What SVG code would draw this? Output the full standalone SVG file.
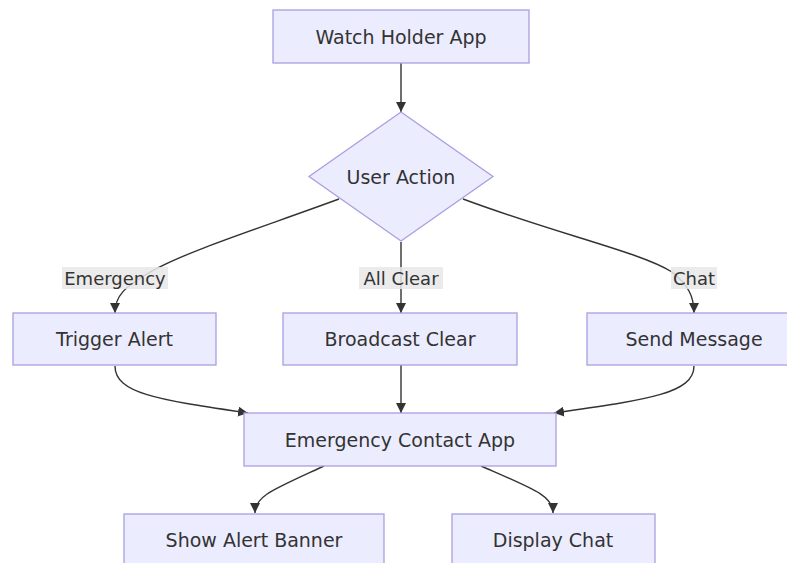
<svg xmlns="http://www.w3.org/2000/svg" width="787" height="563" viewBox="0 0 787 563">
<defs>
<marker id="arrow" viewBox="0 0 10 10" refX="10" refY="5" markerWidth="10" markerHeight="10" markerUnits="userSpaceOnUse" orient="auto">
<path d="M0,0 L10,5 L0,10 z" fill="#333333"/>
</marker>
<style>
.node rect, .node polygon { fill: #ECECFF; stroke: #A99EE0; stroke-width: 1.3; }
.node text { font-family: "DejaVu Sans", Verdana, sans-serif; font-size: 19px; fill: #333333; text-anchor: middle; dominant-baseline: central; }
.edge { fill: none; stroke: #333333; stroke-width: 1.4; marker-end: url(#arrow); }
.lbl rect { fill: #E8E8E8; fill-opacity: 0.85; }
.lbl text { font-family: "DejaVu Sans", Verdana, sans-serif; font-size: 18px; fill: #333333; text-anchor: middle; dominant-baseline: central; }
</style>
</defs>
<rect width="787" height="563" fill="#FFFFFF"/>
<g id="connectors">
<path class="edge" d="M401,63 L401,112"/>
<path class="edge" d="M339,199 C260,228 190,250 152,271 C124,287 115,296 115,313"/>
<path class="edge" d="M401,242 L401,313"/>
<path class="edge" d="M463,199 C560,235 640,252 672,272 C688,285 694,296 694,313"/>
<path class="edge" d="M115,366 C115,394 160,400 248,413"/>
<path class="edge" d="M401,365 L401,413"/>
<path class="edge" d="M694,366 C694,394 645,400 554,413"/>
<path class="edge" d="M324,466 C272,490 255,496 255,513"/>
<path class="edge" d="M481,466 C536,490 553,496 553,513"/>
</g>
<g id="edge-labels">
<g class="lbl" id="label-emergency"><rect x="62" y="267" width="106" height="22"/><text x="115" y="278">Emergency</text></g>
<g class="lbl" id="label-allclear"><rect x="359" y="267" width="84" height="22"/><text x="401" y="278">All Clear</text></g>
<g class="lbl" id="label-chat"><rect x="671" y="267" width="46" height="22"/><text x="694" y="278">Chat</text></g>
</g>
<g class="node" id="watch-holder-app"><rect x="273" y="10" width="256" height="53"/><text x="401" y="36.5">Watch Holder App</text></g>
<g class="node" id="user-action"><polygon points="401,112 493,176.5 401,241 309,176.5"/><text x="401" y="176.5">User Action</text></g>
<g class="node" id="trigger-alert"><rect x="13" y="313" width="203" height="52"/><text x="114.5" y="339">Trigger Alert</text></g>
<g class="node" id="broadcast-clear"><rect x="283" y="313" width="234" height="52"/><text x="400" y="339">Broadcast Clear</text></g>
<g class="node" id="send-message"><rect x="587" y="313" width="214" height="52"/><text x="694" y="339">Send Message</text></g>
<g class="node" id="emergency-contact-app"><rect x="244" y="413" width="312" height="53"/><text x="400" y="439.5">Emergency Contact App</text></g>
<g class="node" id="show-alert-banner"><rect x="124" y="514" width="260" height="53"/><text x="254" y="540">Show Alert Banner</text></g>
<g class="node" id="display-chat"><rect x="452" y="514" width="203" height="53"/><text x="553" y="540">Display Chat</text></g>
</svg>
